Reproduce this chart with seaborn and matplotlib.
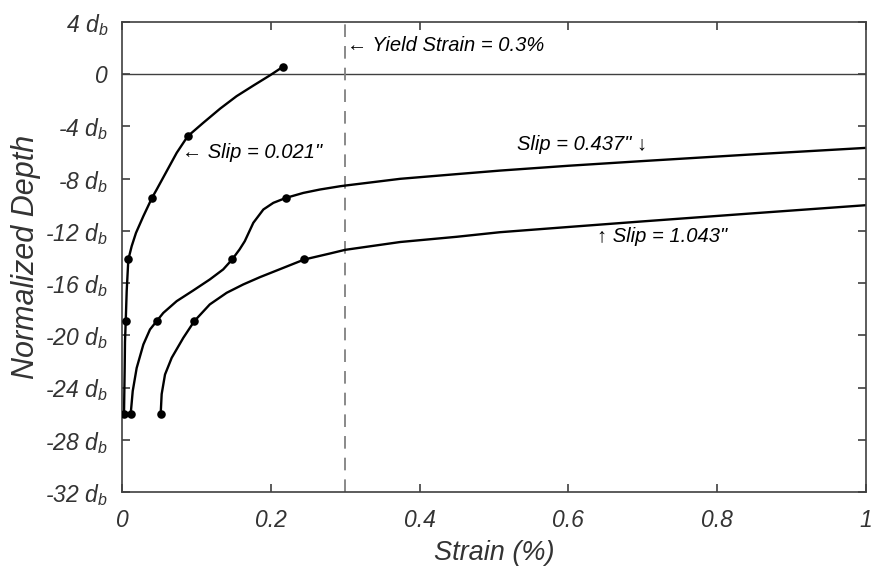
import matplotlib
matplotlib.use("Agg")
import matplotlib.pyplot as plt
import seaborn as sns
import pandas as pd

# ---- data ----
# Slip = 0.021"
c1_strain = [0.0027, 0.0036, 0.004, 0.005, 0.0063, 0.0085, 0.013, 0.0188, 0.0287, 0.0403, 0.0466,
             0.060, 0.0735, 0.0883, 0.109, 0.132, 0.154, 0.1765, 0.199, 0.216]
c1_depth = [-26.0, -22.5, -20.5, -18.9, -16.6, -14.19, -13.17, -12.15, -10.87, -9.47, -8.83,
            -7.43, -6.02, -4.75, -3.73, -2.63, -1.68, -0.87, -0.08, 0.56]
c1_mk_strain = [0.0027, 0.005, 0.0085, 0.0403, 0.0883, 0.216]
c1_mk_depth = [-26.0, -18.9, -14.19, -9.47, -4.75, 0.56]

# Slip = 0.437"
c2_strain = [0.0117, 0.0144, 0.0197, 0.0287, 0.0376, 0.0466, 0.0555, 0.0735, 0.0958, 0.118, 0.136,
             0.148, 0.158, 0.165, 0.1765, 0.19, 0.2034, 0.2204, 0.2437, 0.266, 0.293, 0.301,
             0.374, 0.45, 0.508, 0.6, 0.7, 0.844, 1.0]
c2_depth = [-26.0, -24.27, -22.5, -20.7, -19.55, -18.91, -18.28, -17.38, -16.56, -15.72, -14.95,
            -14.19, -13.42, -12.79, -11.38, -10.36, -9.85, -9.47, -9.09, -8.83, -8.58, -8.52,
            -8.01, -7.65, -7.38, -7.01, -6.65, -6.15, -5.64]
c2_mk_strain = [0.0117, 0.0466, 0.148, 0.2204]
c2_mk_depth = [-26.0, -18.91, -14.19, -9.47]

# Slip = 1.043"
c3_strain = [0.052, 0.0533, 0.0578, 0.0668, 0.0824, 0.0972, 0.118, 0.1407, 0.163, 0.1855, 0.2168,
             0.245, 0.2796, 0.30, 0.374, 0.45, 0.508, 0.6, 0.7, 0.844, 1.0]
c3_depth = [-26.0, -24.5, -23.0, -21.72, -20.19, -18.91, -17.63, -16.74, -16.1, -15.54, -14.83,
            -14.19, -13.73, -13.45, -12.85, -12.45, -12.1, -11.7, -11.27, -10.67, -10.03]
c3_mk_strain = [0.052, 0.0972, 0.245]
c3_mk_depth = [-26.0, -18.91, -14.19]

yield_strain = 0.3
x_ticks = [0, 0.2, 0.4, 0.6, 0.8, 1]
x_tick_labels = ["0", "0.2", "0.4", "0.6", "0.8", "1"]
y_ticks = [4, 0, -4, -8, -12, -16, -20, -24, -28, -32]
y_tick_labels = ["4 d$_\\mathit{b}$", "0", "-4 d$_\\mathit{b}$", "-8 d$_\\mathit{b}$", "-12 d$_\\mathit{b}$",
                 "-16 d$_\\mathit{b}$", "-20 d$_\\mathit{b}$", "-24 d$_\\mathit{b}$", "-28 d$_\\mathit{b}$",
                 "-32 d$_\\mathit{b}$"]

# ---- style ----
sns.set_style("ticks")
FAM = ["Liberation Sans", "DejaVu Sans"]
plt.rcParams["font.family"] = FAM
plt.rcParams["font.style"] = "italic"
plt.rcParams["mathtext.fontset"] = "custom"
plt.rcParams["mathtext.it"] = "Liberation Sans:italic"
plt.rcParams["mathtext.rm"] = "Liberation Sans:italic"

TXT = "#333333"
AX = "#404040"

fig = plt.figure(figsize=(8.74, 5.69), dpi=100)
ax = fig.add_axes([0.1396, 0.1353, 0.8512, 0.8260])

curves = [(c1_strain, c1_depth, c1_mk_strain, c1_mk_depth),
          (c2_strain, c2_depth, c2_mk_strain, c2_mk_depth),
          (c3_strain, c3_depth, c3_mk_strain, c3_mk_depth)]

for xs, ys, mx, my in curves:
    df = pd.DataFrame({"strain": xs, "depth": ys})
    sns.lineplot(data=df, x="strain", y="depth", sort=False, estimator=None,
                 color="black", lw=1.7, ax=ax)
    dm = pd.DataFrame({"strain": mx, "depth": my})
    sns.scatterplot(data=dm, x="strain", y="depth", color="black", s=38,
                    edgecolor="black", linewidth=0, ax=ax, zorder=5)

ax.axhline(0, color=AX, lw=1.0, zorder=1)
ax.axvline(yield_strain, color="#808080", lw=1.3, ls=(0, (7, 5)), zorder=1)

ax.set_xlim(0, 1)
ax.set_ylim(-32, 4)
ax.set_xticks(x_ticks)
ax.set_xticklabels(x_tick_labels)
ax.set_yticks(y_ticks)
ax.set_yticklabels(y_tick_labels)
ax.tick_params(direction="in", length=6, width=1.2, color=AX, top=True, right=True,
               labelsize=16.5, labelcolor=TXT)
ax.tick_params(axis="y", pad=10)
ax.tick_params(axis="x", pad=12)
for lab in ax.get_xticklabels() + ax.get_yticklabels():
    lab.set_fontstyle("italic")
for sp in ax.spines.values():
    sp.set_visible(True)
    sp.set_color(AX)
    sp.set_linewidth(1.2)

ax.set_xlabel("Strain (%)", fontsize=19.5, color=TXT, style="italic", labelpad=6)
ax.set_ylabel("Normalized Depth", fontsize=22, color=TXT, style="italic", labelpad=3)

ann = dict(fontsize=14.5, color="black", style="italic", va="center", ha="left", family=FAM)
ax.text(0.303, 2.2, "\u2190 Yield Strain = 0.3%", **ann)
ax.text(0.081, -5.97, "\u2190 Slip = 0.021\"", **ann)
ax.text(0.531, -5.36, "Slip = 0.437\" \u2193", **ann)
ax.text(0.638, -12.4, "\u2191 Slip = 1.043\"", **ann)

fig.savefig("out.png", dpi=100)
